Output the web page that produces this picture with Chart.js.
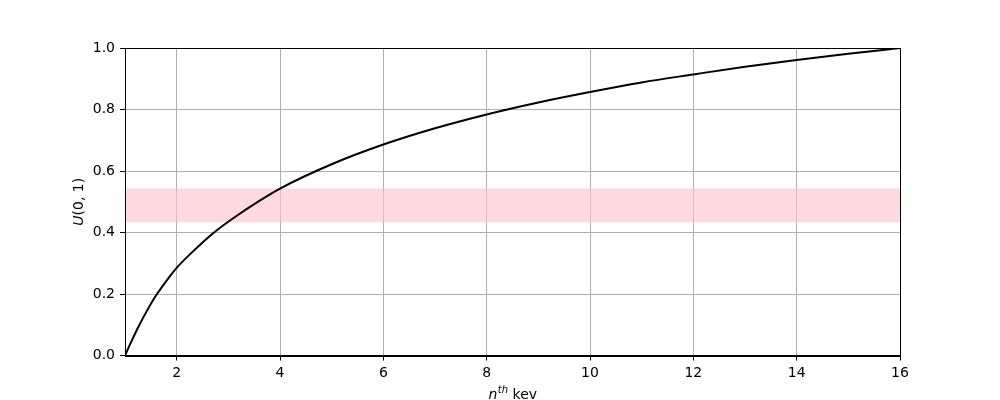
<!DOCTYPE html>
<html>
<head>
<meta charset="utf-8">
<script src="https://cdn.jsdelivr.net/npm/chart.js@4/dist/chart.umd.min.js"></script>
<style>
  html, body { margin: 0; padding: 0; background: #fff; }
  #wrap { width: 1000px; height: 400px; }
</style>
</head>
<body>
<div id="wrap"><canvas id="myChart" width="1000" height="400"></canvas></div>
<script>
// values
var xValues = [1, 1.135, 1.27, 1.44, 1.6, 1.86, 2, 2.25, 2.7, 3.15, 3.6, 4, 5, 6, 7, 8, 9, 10, 11, 12, 13, 14, 15, 16];
var uValues = [0, 0.05, 0.097, 0.15, 0.195, 0.256, 0.285, 0.328, 0.397, 0.453, 0.503, 0.543, 0.622, 0.686, 0.739, 0.784, 0.823, 0.857, 0.888, 0.914, 0.939, 0.961, 0.981, 1.0];
var xTicks = [2, 4, 6, 8, 10, 12, 14, 16];
var yTicks = [0.0, 0.2, 0.4, 0.6, 0.8, 1.0];
var bandLow = 0.433;
var bandHigh = 0.543;

var FONT = "'DejaVu Sans', sans-serif";

// pink band behind the curve
var bandPlugin = {
  id: 'band',
  beforeDatasetsDraw: function(chart) {
    var ctx = chart.ctx, area = chart.chartArea, y = chart.scales.y;
    var top = y.getPixelForValue(bandHigh), bottom = y.getPixelForValue(bandLow);
    ctx.save();
    ctx.fillStyle = 'rgba(255, 192, 203, 0.6)';
    ctx.fillRect(area.left, top, area.right - area.left, bottom - top);
    ctx.restore();
  }
};

// frame on all four sides + axis titles with italics/superscript
var framePlugin = {
  id: 'frame',
  afterDraw: function(chart) {
    var ctx = chart.ctx, a = chart.chartArea;
    ctx.save();
    ctx.strokeStyle = '#000';
    ctx.lineWidth = 1;
    ctx.strokeRect(Math.round(a.left) + 0.5, Math.round(a.top) + 0.5,
      Math.round(a.right - a.left), Math.round(a.bottom - a.top));

    ctx.fillStyle = '#000';
    ctx.textBaseline = 'alphabetic';
    // x title: n^th kev
    var cx = (a.left + a.right) / 2, by = 399;
    ctx.font = 'italic 14px ' + FONT;
    var wn = ctx.measureText('n').width;
    ctx.font = 'italic 10px ' + FONT;
    var wth = ctx.measureText('th').width;
    ctx.font = '14px ' + FONT;
    var wk = ctx.measureText(' kev').width;
    var x0 = cx - (wn + wth + wk) / 2;
    ctx.textAlign = 'left';
    ctx.font = 'italic 14px ' + FONT;
    ctx.fillText('n', x0, by);
    ctx.font = 'italic 10px ' + FONT;
    ctx.fillText('th', x0 + wn + 0.5, by - 6);
    ctx.font = '14px ' + FONT;
    ctx.fillText(' kev', x0 + wn + wth + 0.5, by);

    // y title: U(0, 1)
    var cy = (a.top + a.bottom) / 2;
    ctx.translate(83, cy);
    ctx.rotate(-Math.PI / 2);
    ctx.font = 'italic 14px ' + FONT;
    var wu = ctx.measureText('U').width;
    ctx.font = '14px ' + FONT;
    var wr = ctx.measureText('(0, 1)').width;
    var sx = -(wu + wr) / 2;
    ctx.font = 'italic 14px ' + FONT;
    ctx.fillText('U', sx, 0);
    ctx.font = '14px ' + FONT;
    ctx.fillText('(0, 1)', sx + wu, 0);
    ctx.restore();
  }
};

var points = xValues.map(function(x, i) { return {x: x, y: uValues[i]}; });

var ctx = document.getElementById('myChart').getContext('2d');
new Chart(ctx, {
  type: 'line',
  data: {
    datasets: [{
      data: points,
      borderColor: '#000',
      borderWidth: 2,
      pointRadius: 0,
      fill: false,
      cubicInterpolationMode: 'monotone'
    }]
  },
  options: {
    responsive: false,
    animation: false,
    layout: { padding: { top: 48, right: 100, left: 0, bottom: 0 } },
    plugins: { legend: { display: false }, tooltip: { enabled: false } },
    scales: {
      x: {
        type: 'linear',
        min: 1,
        max: 16,
        afterBuildTicks: function(s) { s.ticks = xTicks.map(function(v) { return {value: v}; }); },
        afterFit: function(s) { s.height = 44.5; },
        grid: { color: '#b0b0b0', lineWidth: 1, tickColor: '#000', tickLength: 5 },
        border: { color: '#000', width: 1 },
        ticks: { color: '#000', padding: 4, maxRotation: 0, font: { family: FONT, size: 14 },
          callback: function(v) { return String(v); } }
      },
      y: {
        type: 'linear',
        min: 0,
        max: 1,
        afterBuildTicks: function(s) { s.ticks = yTicks.map(function(v) { return {value: v}; }); },
        afterFit: function(s) { s.width = 125; },
        grid: { color: '#b0b0b0', lineWidth: 1, tickColor: '#000', tickLength: 5 },
        border: { color: '#000', width: 1 },
        ticks: { color: '#000', padding: 5, font: { family: FONT, size: 14 },
          callback: function(v) { return v.toFixed(1); } }
      }
    }
  },
  plugins: [bandPlugin, framePlugin]
});
</script>
</body>
</html>
